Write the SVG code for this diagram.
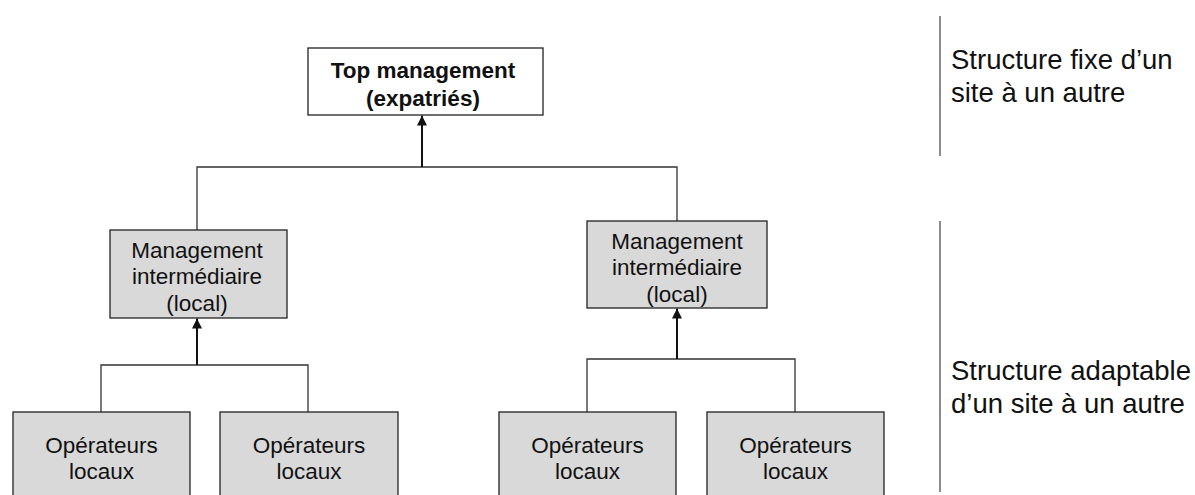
<svg xmlns="http://www.w3.org/2000/svg" width="1195" height="495" viewBox="0 0 1195 495">
<style>
.box{fill:#d9d9d9;stroke:#222;stroke-width:1.3}
.top{fill:#fff;stroke:#222;stroke-width:1.3}
.t{font-family:"Liberation Sans",Arial,sans-serif;font-size:22.5px;fill:#111;text-anchor:middle}
.b{font-weight:bold}
.side{font-family:"Liberation Sans",Arial,sans-serif;font-size:27.5px;fill:#111}
.ln{fill:none;stroke:#333;stroke-width:1.3}
.ar{fill:none;stroke:#111;stroke-width:2;marker-end:url(#ah)}
.sep{stroke:#666;stroke-width:1.5}
</style>
<defs>
<marker id="ah" viewBox="0 0 10 10" refX="10" refY="5" markerWidth="5" markerHeight="5" orient="auto" markerUnits="strokeWidth">
<path d="M0,0 L10,5 L0,10 z" fill="#111"/>
</marker>
</defs>
<rect width="1195" height="495" fill="#fff"/>
<g id="connectors">
<path class="ln" d="M197,230 V167 H677 V221"/>
<path class="ar" d="M422,167 V115.5"/>
<path class="ln" d="M101,412 V365 H308 V412"/>
<path class="ar" d="M197,365 V318.5"/>
<path class="ln" d="M587,412 V359 H795 V412"/>
<path class="ar" d="M677,359 V308.5"/>
</g>
<g id="top-management">
<rect class="top" x="308" y="48" width="235" height="67"/>
<text class="t b" x="423" y="78">Top management</text>
<text class="t b" x="423" y="106">(expatriés)</text>
</g>
<g id="mid-left">
<rect class="box" x="110" y="230" width="177" height="88"/>
<text class="t" x="197" y="257.5">Management</text>
<text class="t" x="197" y="284">intermédiaire</text>
<text class="t" x="197" y="310.5">(local)</text>
</g>
<g id="mid-right">
<rect class="box" x="587" y="221" width="180" height="87"/>
<text class="t" x="677" y="248.5">Management</text>
<text class="t" x="677" y="275">intermédiaire</text>
<text class="t" x="677" y="301.5">(local)</text>
</g>
<g id="op1">
<rect class="box" x="13" y="412" width="177" height="90"/>
<text class="t" x="101.5" y="452.5">Opérateurs</text>
<text class="t" x="101.5" y="479">locaux</text>
</g>
<g id="op2">
<rect class="box" x="220" y="412" width="178" height="90"/>
<text class="t" x="309" y="452.5">Opérateurs</text>
<text class="t" x="309" y="479">locaux</text>
</g>
<g id="op3">
<rect class="box" x="499" y="412" width="177" height="90"/>
<text class="t" x="587.5" y="452.5">Opérateurs</text>
<text class="t" x="587.5" y="479">locaux</text>
</g>
<g id="op4">
<rect class="box" x="707" y="412" width="177" height="90"/>
<text class="t" x="795.5" y="452.5">Opérateurs</text>
<text class="t" x="795.5" y="479">locaux</text>
</g>
<g id="side-fixed">
<line class="sep" x1="940" y1="16" x2="940" y2="156"/>
<text class="side" x="951" y="69">Structure fixe d’un</text>
<text class="side" x="951" y="102">site à un autre</text>
</g>
<g id="side-adaptable">
<line class="sep" x1="940" y1="221" x2="940" y2="492"/>
<text class="side" x="951" y="380">Structure adaptable</text>
<text class="side" x="951" y="413">d’un site à un autre</text>
</g>
</svg>
